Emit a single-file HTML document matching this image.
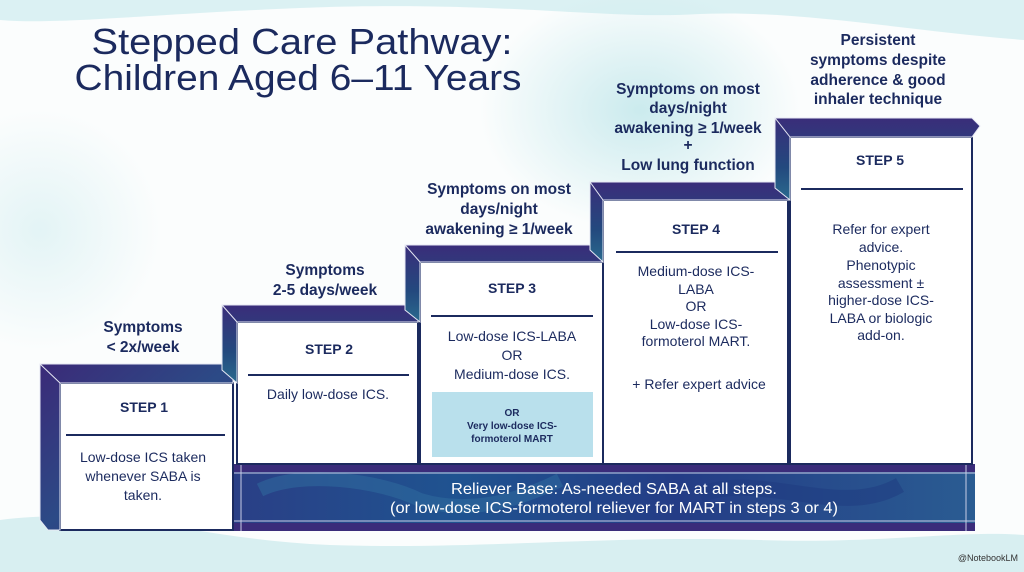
<!DOCTYPE html>
<html><head><meta charset="utf-8"><style>
html,body{margin:0;padding:0;background:#fff;}
svg{display:block;}
text{font-family:"Liberation Sans","DejaVu Sans",sans-serif;fill:#1b2a5e;}
.lab{font-weight:bold;font-size:15.5px;text-anchor:middle;}
.st{font-weight:bold;font-size:14px;text-anchor:middle;}
.bd{font-size:14px;text-anchor:middle;}
</style></head><body>
<svg width="1024" height="572" viewBox="0 0 1024 572" xmlns="http://www.w3.org/2000/svg">
<defs>
<linearGradient id="fr" x1="0" y1="0" x2="1" y2="1">
<stop offset="0" stop-color="#3b2a78"/><stop offset="0.5" stop-color="#2c4a86"/><stop offset="1" stop-color="#3a2c7a"/>
</linearGradient>
<linearGradient id="frv" x1="0" y1="0" x2="0" y2="1">
<stop offset="0" stop-color="#3a2d7a"/><stop offset="0.6" stop-color="#23497e"/><stop offset="1" stop-color="#2a6a8e"/>
</linearGradient>
<linearGradient id="bar" x1="0" y1="0" x2="1" y2="0">
<stop offset="0" stop-color="#2a3f86"/><stop offset="0.3" stop-color="#1f5390"/><stop offset="0.6" stop-color="#243c86"/><stop offset="1" stop-color="#2a5c92"/>
</linearGradient>
<radialGradient id="w1" cx="0.5" cy="0.5" r="0.5"><stop offset="0" stop-color="#bfe6ea" stop-opacity="0.8"/><stop offset="1" stop-color="#bfe6ea" stop-opacity="0"/></radialGradient>
</defs>
<rect width="1024" height="572" fill="#fbfdfd"/>
<path d="M0 0H1024V40C900 30 800 10 700 14C600 20 500 0 300 8C150 14 60 25 0 20Z" fill="#d3eef0" opacity="0.8"/>
<ellipse cx="640" cy="110" rx="160" ry="120" fill="url(#w1)"/>
<ellipse cx="40" cy="230" rx="120" ry="120" fill="url(#w1)" opacity="0.5"/>
<path d="M0 520C120 505 200 540 330 545C480 550 600 535 760 540C880 544 960 530 1024 535V572H0Z" fill="#d8eff1"/>

<text x="302" y="54" text-anchor="middle" font-size="36" textLength="421" lengthAdjust="spacingAndGlyphs" style="fill:#1b2a5e">Stepped Care Pathway:</text>
<text x="298" y="90" text-anchor="middle" font-size="36" textLength="447" lengthAdjust="spacingAndGlyphs" style="fill:#1b2a5e">Children Aged 6–11 Years</text>

<!-- relief bar -->
<rect x="233" y="464" width="742" height="67" fill="url(#bar)"/>
<rect x="233" y="464" width="742" height="8" fill="#3a2c7a"/>
<rect x="233" y="523" width="742" height="8" fill="#3a2c7a"/>
<path d="M260 490C300 470 380 480 420 500C470 515 520 500 560 480" stroke="#2f6da0" stroke-width="14" fill="none" opacity="0.5"/>
<path d="M700 495C760 470 840 520 900 485" stroke="#1d3a80" stroke-width="16" fill="none" opacity="0.5"/>
<line x1="233" y1="473" x2="975" y2="473" stroke="#c9cde6" stroke-width="1"/>
<line x1="233" y1="521" x2="975" y2="521" stroke="#c9cde6" stroke-width="1"/>
<line x1="241" y1="464" x2="241" y2="531" stroke="#c9cde6" stroke-width="1"/>
<line x1="966" y1="464" x2="966" y2="531" stroke="#c9cde6" stroke-width="1"/>
<text x="614" y="494" text-anchor="middle" font-size="16" textLength="326" lengthAdjust="spacingAndGlyphs" style="fill:#fff">Reliever Base: As-needed SABA at all steps.</text>
<text x="614" y="513" text-anchor="middle" font-size="16" textLength="448" lengthAdjust="spacingAndGlyphs" style="fill:#fff">(or low-dose ICS-formoterol reliever for MART in steps 3 or 4)</text>

<!-- Step boxes -->
<rect x="60" y="383" width="173" height="147" fill="#fff" stroke="#1b2a5e" stroke-width="2"/>
<rect x="237" y="322" width="181" height="142" fill="#fff" stroke="#1b2a5e" stroke-width="2"/>
<rect x="420" y="262" width="183" height="202" fill="#fff" stroke="#1b2a5e" stroke-width="2"/>
<rect x="603" y="200" width="185" height="264" fill="#fff" stroke="#1b2a5e" stroke-width="2"/>
<rect x="790" y="137" width="182" height="327" fill="#fff" stroke="#1b2a5e" stroke-width="2"/>

<!-- frames -->
<g stroke="#e6e8f4" stroke-width="1">
<polygon points="40,364 224,364 233,372 233,383 60,383 60,530 48,530 40,520" fill="url(#fr)"/>
<line x1="40" y1="364" x2="60" y2="383"/>
<polygon points="222,305 410,305 418,313 418,322 237,322 237,383 222,370" fill="url(#frv)"/>
<line x1="222" y1="305" x2="237" y2="322"/>
<polygon points="405,245 596,245 603,253 603,262 420,262 420,322 405,310" fill="url(#frv)"/>
<line x1="405" y1="245" x2="420" y2="262"/>
<polygon points="590,182 782,182 790,190 790,200 603,200 603,262 590,250" fill="url(#frv)"/>
<line x1="590" y1="182" x2="603" y2="200"/>
<polygon points="775,118 972,118 980,126 972,137 790,137 790,200 775,188" fill="url(#frv)"/>
<line x1="775" y1="118" x2="790" y2="137"/>
</g>

<!-- step labels above -->
<text class="lab" x="143" y="332">Symptoms</text>
<text class="lab" x="143" y="352">&lt; 2x/week</text>
<text class="lab" x="325" y="275">Symptoms</text>
<text class="lab" x="325" y="295">2-5 days/week</text>
<text class="lab" x="499" y="194">Symptoms on most</text>
<text class="lab" x="499" y="214">days/night</text>
<text class="lab" x="499" y="234">awakening ≥ 1/week</text>
<text class="lab" x="688" y="94">Symptoms on most</text>
<text class="lab" x="688" y="113">days/night</text>
<text class="lab" x="688" y="133">awakening ≥ 1/week</text>
<text class="lab" x="688" y="150">+</text>
<text class="lab" x="688" y="170">Low lung function</text>
<text class="lab" x="878" y="45">Persistent</text>
<text class="lab" x="878" y="65">symptoms despite</text>
<text class="lab" x="878" y="85">adherence &amp; good</text>
<text class="lab" x="878" y="104">inhaler technique</text>

<!-- step contents -->
<text class="st" x="144" y="412">STEP 1</text>
<line x1="66" y1="435" x2="225" y2="435" stroke="#1b2a5e" stroke-width="2"/>
<text class="bd" x="143" y="462">Low-dose ICS taken</text>
<text class="bd" x="143" y="481">whenever SABA is</text>
<text class="bd" x="143" y="500">taken.</text>

<text class="st" x="329" y="354">STEP 2</text>
<line x1="248" y1="375" x2="409" y2="375" stroke="#1b2a5e" stroke-width="2"/>
<text class="bd" x="328" y="399">Daily low-dose ICS.</text>

<text class="st" x="512" y="293">STEP 3</text>
<line x1="431" y1="316" x2="593" y2="316" stroke="#1b2a5e" stroke-width="2"/>
<text class="bd" x="512" y="341">Low-dose ICS-LABA</text>
<text class="bd" x="512" y="360">OR</text>
<text class="bd" x="512" y="379">Medium-dose ICS.</text>
<rect x="432" y="392" width="161" height="65" fill="#b9e0ec"/>
<text x="512" y="416" text-anchor="middle" font-size="10" font-weight="bold">OR</text>
<text x="512" y="429" text-anchor="middle" font-size="10" font-weight="bold">Very low-dose ICS-</text>
<text x="512" y="442" text-anchor="middle" font-size="10" font-weight="bold">formoterol MART</text>

<text class="st" x="696" y="234">STEP 4</text>
<line x1="616" y1="252" x2="778" y2="252" stroke="#1b2a5e" stroke-width="2"/>
<text class="bd" x="696" y="276">Medium-dose ICS-</text>
<text class="bd" x="696" y="294">LABA</text>
<text class="bd" x="696" y="311">OR</text>
<text class="bd" x="696" y="329">Low-dose ICS-</text>
<text class="bd" x="696" y="346">formoterol MART.</text>
<text class="bd" x="699" y="389">+ Refer expert advice</text>

<text class="st" x="880" y="165">STEP 5</text>
<line x1="801" y1="189" x2="963" y2="189" stroke="#1b2a5e" stroke-width="2"/>
<text class="bd" x="881" y="234">Refer for expert</text>
<text class="bd" x="881" y="252">advice.</text>
<text class="bd" x="881" y="270">Phenotypic</text>
<text class="bd" x="881" y="288">assessment ±</text>
<text class="bd" x="881" y="305">higher-dose ICS-</text>
<text class="bd" x="881" y="323">LABA or biologic</text>
<text class="bd" x="881" y="340">add-on.</text>

<text x="1018" y="561" text-anchor="end" font-size="9" style="fill:#333">@NotebookLM</text>
</svg>
</body></html>
